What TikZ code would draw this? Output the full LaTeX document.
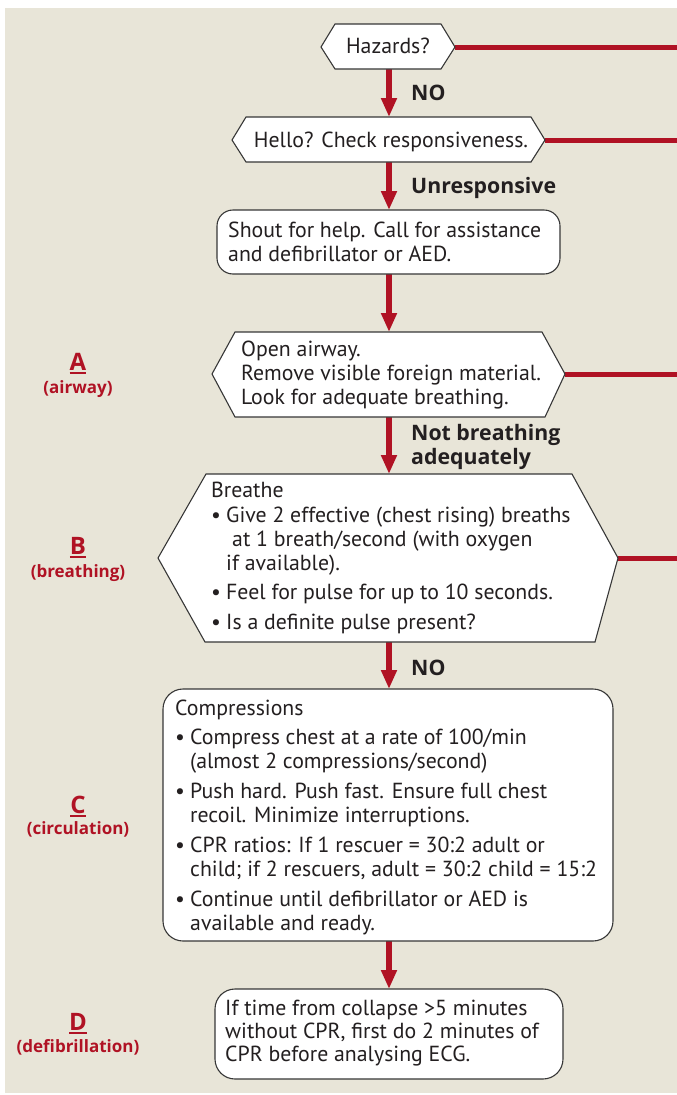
\documentclass[tikz,border=0pt]{standalone}
\usepackage{fontspec}
\setmainfont{PT Sans}
\newfontfamily\labfont{Open Sans}
\usetikzlibrary{arrows.meta}
\definecolor{bg}{RGB}{232,229,216}
\definecolor{cred}{RGB}{176,18,36}
\definecolor{ink}{RGB}{35,31,32}
\definecolor{frame}{RGB}{55,55,55}
\newcommand\bul{\makebox[15pt][l]{\textbullet}}
\newcommand\ulab[1]{\setbox0\hbox{#1}\rlap{\rule[-4pt]{\wd0}{1.8pt}}\box0}
\tikzset{
  box/.style={draw=frame, line width=1.1pt, fill=white},
  flow/.style={draw=cred, line width=6pt, -{Triangle[width=15pt,length=19pt]}},
  exitline/.style={draw=cred, line width=5pt},
  txt/.style={anchor=base west, inner sep=0pt, text=ink, font=\fontsize{21.8}{24}\selectfont},
  ctxt/.style={txt, anchor=base},
  cond/.style={anchor=base west, inner sep=0pt, text=ink, font=\labfont\bfseries\fontsize{21.3}{24}\selectfont},
  letter/.style={anchor=base, inner sep=0pt, text=cred, font=\labfont\bfseries\fontsize{24}{25}\selectfont},
  sublab/.style={anchor=base, inner sep=0pt, text=cred, font=\labfont\bfseries\fontsize{17}{20}\selectfont},
}
\begin{document}
\begin{tikzpicture}[x=1pt,y=-1pt]
\useasboundingbox (0,0) rectangle (677,1095);
\fill[white] (0,0) rectangle (677,1095);
\fill[bg] (5,8) rectangle (677,1093);

% key points
\coordinate (hzR) at (455,47);  \coordinate (hzE) at (677,47);
\coordinate (hzB) at (389,69);
\coordinate (heT) at (389,117); \coordinate (heB) at (389,162);
\coordinate (heR) at (545,140); \coordinate (heE) at (677,140);
\coordinate (shT) at (389,210); \coordinate (shB) at (389,274);
\coordinate (oaT) at (389,332); \coordinate (oaB) at (389,417);
\coordinate (oaR) at (565,374); \coordinate (oaE) at (677,374);
\coordinate (brT) at (389,474); \coordinate (brB) at (389,642);
\coordinate (brR) at (618,558); \coordinate (brE) at (677,558);
\coordinate (cpT) at (389,689); \coordinate (cpB) at (389,941);
\coordinate (dfT) at (389,989);

% exit lines and arrows
\draw[exitline] (hzR) -- (hzE);
\draw[exitline] (heR) -- (heE);
\draw[exitline] (oaR) -- (oaE);
\draw[exitline] (brR) -- (brE);
\draw[flow] (hzB) -- (heT);
\draw[flow] (heB) -- (shT);
\draw[flow] (shB) -- (oaT);
\draw[flow] (oaB) -- (brT);
\draw[flow] (brB) -- (cpT);
\draw[flow] (cpB) -- (dfT);

% shapes
\draw[box] (335,24) -- (441,24) -- (hzR) -- (441,69) -- (335,69) -- (321,47) -- cycle;
\draw[box] (246,117) -- (531,117) -- (heR) -- (531,162) -- (246,162) -- (232,140) -- cycle;
\draw[box, rounded corners=16pt] (217,210) rectangle (560,274);
\draw[box] (235,332) -- (542,332) -- (oaR) -- (545,417) -- (235,417) -- (212,374) -- cycle;
\draw[box] (206,474) -- (572,474) -- (brR) -- (595,642) -- (205,642) -- (158,558) -- cycle;
\draw[box, rounded corners=20pt] (163,689) rectangle (613,941);
\draw[box, rounded corners=20pt] (215,989) rectangle (563,1079);

% texts
\node[ctxt] (hz) at (388,53) {Hazards?};
\node[ctxt] (he) at (391,147) {Hello? Check responsiveness.};
\node[txt] (sh) at (228,237) {\begin{tabular}[t]{@{}l@{}}Shout for help. Call for assistance\\ and defibrillator or AED.\end{tabular}};
\node[txt] (oa) at (241,356) {\begin{tabular}[t]{@{}l@{}}Open airway.\\ Remove visible foreign material.\\ Look for adequate breathing.\end{tabular}};
\node[txt] (br) at (211,497) {\begin{tabular}[t]{@{}l@{}}Breathe\\[1pt]
\bul Give 2 effective (chest rising) breaths\\
\hspace{21pt}at 1 breath/second (with oxygen\\
\hspace{15pt}if available).\\[5pt]
\bul Feel for pulse for up to 10 seconds.\\[6pt]
\bul Is a definite pulse present?\end{tabular}};
\node[txt] (cp) at (175,715) {\begin{tabular}[t]{@{}l@{}}Compressions\\[5pt]
\bul Compress chest at a rate of 100/min\\
\hspace{15pt}(almost 2 compressions/second)\\[6pt]
\bul Push hard. Push fast. Ensure full chest\\
\hspace{15pt}recoil. Minimize interruptions.\\[6pt]
\bul CPR ratios: If 1 rescuer = 30:2 adult or\\
\hspace{15pt}child; if 2 rescuers, adult = 30:2 child = 15:2\\[6pt]
\bul Continue until defibrillator or AED is\\
\hspace{15pt}available and ready.\end{tabular}};
\node[txt, font=\fontsize{21.8}{23}\selectfont] (df) at (225,1015) {\begin{tabular}[t]{@{}l@{}}If time from collapse >5 minutes\\ without CPR, first do 2 minutes of\\ CPR before analysing ECG.\end{tabular}};

% condition labels
\node[cond] (c1) at (411,100) {NO};
\node[cond] (c2) at (411,193) {Unresponsive};
\node[cond] (c3) at (411,440) {\begin{tabular}[t]{@{}l@{}}Not breathing\\ adequately\end{tabular}};
\node[cond] (c4) at (411,675) {NO};

% side labels
\node[letter] (la) at (78,370) {\ulab{A}};
\node[sublab] (sa) at (78,393) {(airway)};
\node[letter] (lb) at (78,554) {\ulab{B}};
\node[sublab] (sb) at (78,577) {(breathing)};
\node[letter] (lc) at (78,813) {\ulab{C}};
\node[sublab] (sc) at (78,834) {(circulation)};
\node[letter] (ld) at (78,1030) {\ulab{D}};
\node[sublab] (sd) at (78,1052) {(defibrillation)};
\end{tikzpicture}
\end{document}
